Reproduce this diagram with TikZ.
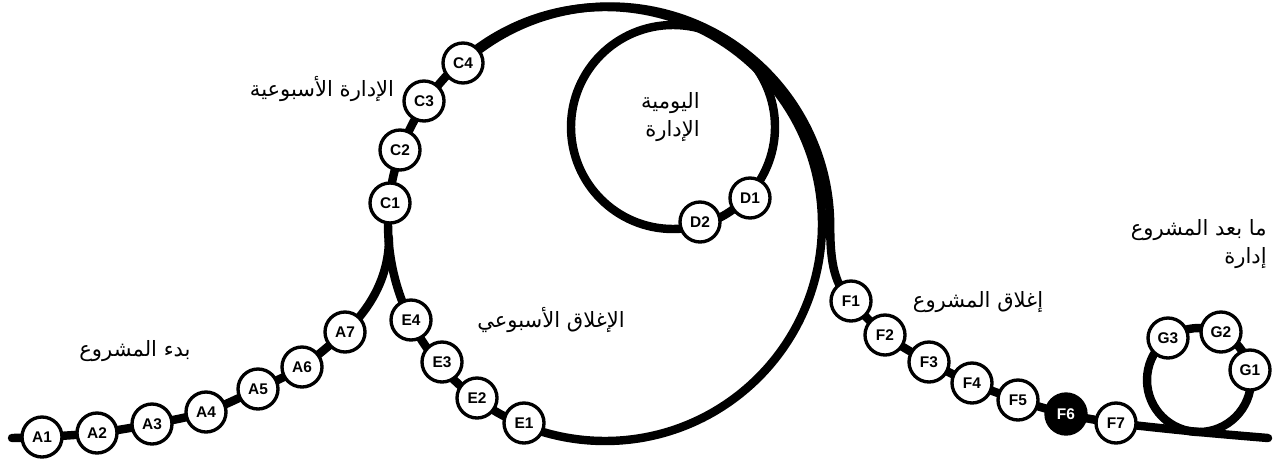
\documentclass[tikz,border=0pt]{standalone}
\usepackage{fontspec}
\setmainfont{Liberation Sans}
\newfontfamily\arabicfont[Script=Arabic]{DejaVu Sans}
\TeXXeTstate=1
\usepackage{xcolor}
\usetikzlibrary{backgrounds}
\definecolor{ink}{HTML}{000000}
\tikzset{
  station/.style={circle,draw=ink,fill=white,line width=1.9pt,
                  minimum size=0.8cm,inner sep=0pt,
                  font=\fontsize{8.8}{10}\selectfont\bfseries},
  donestation/.style={station,fill=ink,text=white},
  track/.style={draw=ink,line width=4.8pt,line cap=round,line join=round},
  phase/.style={font=\fontsize{12}{16}\selectfont\arabicfont,inner sep=0pt}
}

\begin{document}
\begin{tikzpicture}[x=0.02cm,y=-0.02cm]
    \path[use as bounding box] (0,0) rectangle (1280,463);
    % start-up
    \node[station] (A1) at (42,437) {A1};
    \node[station] (A2) at (97,433) {A2};
    \node[station] (A3) at (152,424) {A3};
    \node[station] (A4) at (206,412) {A4};
    \node[station] (A5) at (258,389) {A5};
    \node[station] (A6) at (302,367) {A6};
    \node[station] (A7) at (345,332) {A7};
    % weekly
    \node[station] (C1) at (390,203) {C1};
    \node[station] (C2) at (400,150) {C2};
    \node[station] (C3) at (424,101) {C3};
    \node[station] (C4) at (463,63) {C4};
    \node[station] (E4) at (411,320) {E4};
    \node[station] (E3) at (442,362) {E3};
    \node[station] (E2) at (477,398) {E2};
    \node[station] (E1) at (524,423) {E1};
    % daily
    \node[station] (D1) at (750,198) {D1};
    \node[station] (D2) at (700,222) {D2};
    % closing
    \node[station] (F1) at (851,301) {F1};
    \node[station] (F2) at (885,335) {F2};
    \node[station] (F3) at (929,362) {F3};
    \node[station] (F4) at (972,383) {F4};
    \node[station] (F5) at (1018,400) {F5};
    \node[donestation] (F6) at (1066,414) {F6};
    \node[station] (F7) at (1116,423) {F7};
    % after
    \node[station] (G1) at (1250,370) {G1};
    \node[station] (G2) at (1221,332) {G2};
    \node[station] (G3) at (1168,338) {G3};

    \coordinate (start) at (12,438);
    \coordinate (join) at (389,238);
    \coordinate (weekhub) at (605,224);
    \coordinate (dayhub) at (673,127);
    \coordinate (afterhub) at (1199,380);
    \coordinate (touch) at (1199,432);
    \coordinate (finish) at (1268,438);

    \begin{scope}[on background layer]
      \draw[track] plot[smooth] coordinates {(start) (A1.center) (A2.center)
        (A3.center) (A4.center) (A5.center) (A6.center) (A7.center)};
      \draw[track] (A7.center) .. controls +(24,-22) and +(0,40) .. (join);
      \draw[track] (weekhub) circle[radius=217];
      \draw[track] (C4.center) arc[start angle=228,end angle=360,radius=220]
        .. controls +(0,38) and +(-16,-16) .. (F1.center);
      \draw[track] plot[smooth] coordinates {(F1.center) (F2.center)
        (F3.center) (F4.center) (F5.center) (F6.center) (F7.center)
        (touch) (finish)};
      \draw[track] (dayhub) circle[radius=102];
      \draw[track] (afterhub) circle[radius=52];
    \end{scope}

    % phase names
    \node[phase] (startlbl) at (135,351) {\beginR بدء المشروع\endR};
    \node[phase] (weeklbl) at (322,89) {\beginR الإدارة الأسبوعية\endR};
    \node[phase,align=right,anchor=east] (daylbl) at (700,117)
      {\beginR اليومية\endR\\\beginR الإدارة\endR};
    \node[phase] (wcloselbl) at (551,320) {\beginR الإغلاق الأسبوعي\endR};
    \node[phase] (closelbl) at (978,302) {\beginR إغلاق المشروع\endR};
    \node[phase,align=right,anchor=east] (afterlbl) at (1267,244)
      {\beginR ما بعد المشروع\endR\\\beginR إدارة\endR};
  \end{tikzpicture}
\end{document}
